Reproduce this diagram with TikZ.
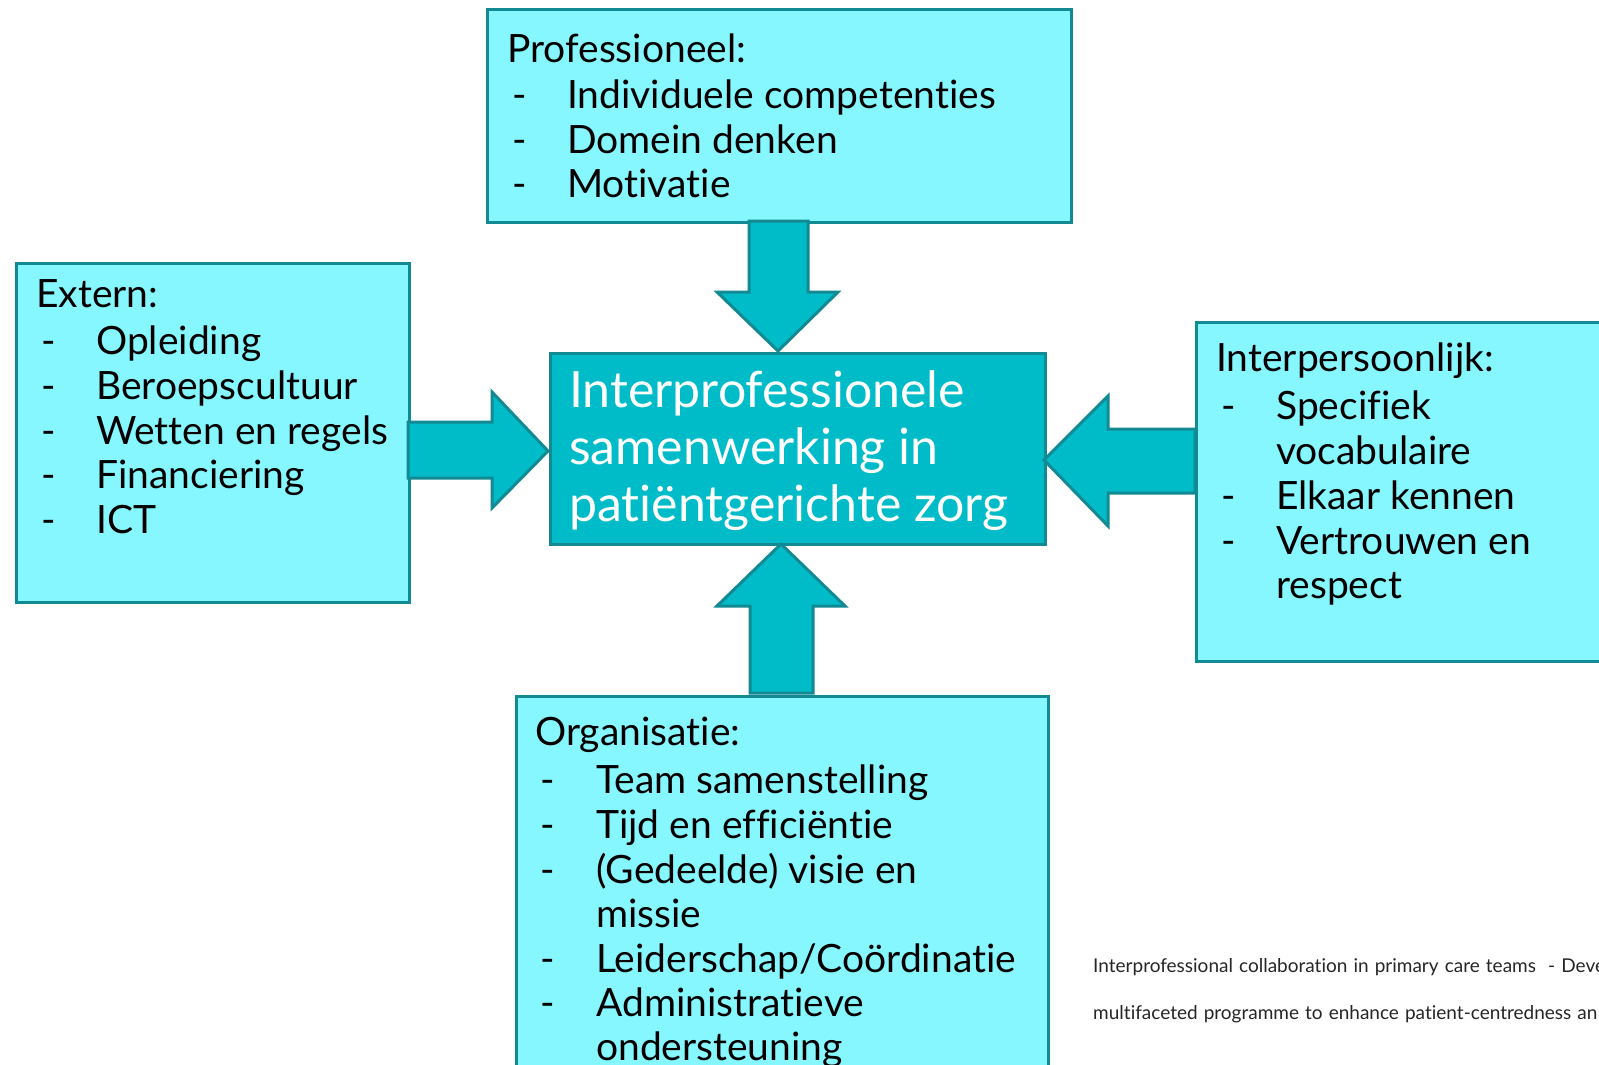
\documentclass[tikz,border=0pt]{standalone}
\usepackage{fontspec}
\setmainfont[Ligatures=NoCommon]{Lato}
\definecolor{boxfill}{HTML}{86F6FF}
\definecolor{boxline}{HTML}{128A93}
\definecolor{midfill}{HTML}{00BCC9}
\newcommand\notespacing{\spaceskip=0.32em plus 0.1em minus 0.05em\relax}
\begin{document}
\begin{tikzpicture}[x=1pt,y=-1pt,
  box/.style={draw=boxline, fill=boxfill, line width=3pt, anchor=north west, inner sep=0pt},
  midbox/.style={draw=boxline, fill=midfill, line width=3pt, anchor=north west, inner sep=0pt},
  blockarrow/.style={draw=boxline, fill=midfill, line width=3pt, line join=miter},
  txt/.style={anchor=base west, inner sep=0pt, font=\fontsize{39}{46}\selectfont},
  midtxt/.style={anchor=base west, inner sep=0pt, font=\fontsize{50}{58}\selectfont, text=white},
  note/.style={anchor=base west, inner sep=0pt, font=\fontsize{19}{22}\selectfont\notespacing, text=black!85}]
\useasboundingbox (0,0) rectangle (1599,1065);
\clip (0,0) rectangle (1599,1065);
\fill[white] (0,0) rectangle (1599,1065);

% boxes
\node[box, minimum width=584, minimum height=213] (prof) at (486,8) {};
\node[box, minimum width=393, minimum height=339] (ext) at (15,262) {};
\node[box, minimum width=440, minimum height=339] (inter) at (1195,321) {};
\node[box, minimum width=532, minimum height=420] (org) at (515,695) {};
\node[midbox, minimum width=495, minimum height=191] (mid) at (549,352) {};

% block arrows
\draw[blockarrow] (749,221) -- (808,221) -- (808,292) -- (838,292) -- (778,351) -- (717,292) -- (749,292) -- cycle;
\draw[blockarrow] (408,422) -- (492,422) -- (492,392) -- (548,451) -- (492,508) -- (492,478) -- (408,478) -- cycle;
\draw[blockarrow] (1195,429) -- (1108,429) -- (1108,396) -- (1044,460) -- (1108,526) -- (1108,493) -- (1195,493) -- cycle;
\draw[blockarrow] (750,693) -- (750,606) -- (717,606) -- (781,544) -- (845,606) -- (813,606) -- (813,693) -- cycle;

% Professioneel
\node[txt] (p0) at (507,63) {Professioneel:};
\node[txt] (pd1) at (512,109) {-};
\node[txt] (p1) at (567,109) {Individuele competenties};
\node[txt] (pd2) at (512,153) {-};
\node[txt] (p2) at (567,153) {Domein denken};
\node[txt] (pd3) at (512,197) {-};
\node[txt] (p3) at (567,197) {Motivatie};

% Extern
\node[txt] (e0) at (36,307) {Extern:};
\node[txt] (ed1) at (41,354) {-};
\node[txt] (e1) at (96,354) {Opleiding};
\node[txt] (ed2) at (41,399) {-};
\node[txt] (e2) at (96,399) {Beroepscultuur};
\node[txt] (ed3) at (41,444) {-};
\node[txt] (e3) at (96,444) {Wetten en regels};
\node[txt] (ed4) at (41,488) {-};
\node[txt] (e4) at (96,488) {Financiering};
\node[txt] (ed5) at (41,533) {-};
\node[txt] (e5) at (96,533) {ICT};

% Interpersoonlijk
\node[txt] (i0) at (1216,371) {Interpersoonlijk:};
\node[txt] (id1) at (1221,419) {-};
\node[txt] (i1) at (1276,419) {Specifiek};
\node[txt] (i1b) at (1276,464) {vocabulaire};
\node[txt] (id2) at (1221,509) {-};
\node[txt] (i2) at (1276,509) {Elkaar kennen};
\node[txt] (id3) at (1221,554) {-};
\node[txt] (i3) at (1276,554) {Vertrouwen en};
\node[txt] (i3b) at (1276,598) {respect};

% Organisatie
\node[txt] (o0) at (535,745) {Organisatie:};
\node[txt] (od1) at (540,793) {-};
\node[txt] (o1) at (596,793) {Team samenstelling};
\node[txt] (od2) at (540,838) {-};
\node[txt] (o2) at (596,838) {Tijd en efficiëntie};
\node[txt] (od3) at (540,883) {-};
\node[txt] (o3) at (596,883) {(Gedeelde) visie en};
\node[txt] (o3b) at (596,927) {missie};
\node[txt] (od4) at (540,972) {-};
\node[txt] (o4) at (596,972) {Leiderschap/Coördinatie};
\node[txt] (od5) at (540,1016) {-};
\node[txt] (o5) at (596,1016) {Administratieve};
\node[txt] (o5b) at (596,1060) {ondersteuning};

% center
\node[midtxt] (m1) at (569,407) {Interprofessionele};
\node[midtxt] (m2) at (569,464) {samenwerking in};
\node[midtxt] (m3) at (569,521) {patiëntgerichte zorg};

% footnote
\node[note] (n1) at (1093,972) {Interprofessional collaboration in primary care teams \ - Deve};
\node[note] (n2) at (1093,1019) {multifaceted programme to enhance patient-centredness an};
\end{tikzpicture}
\end{document}
